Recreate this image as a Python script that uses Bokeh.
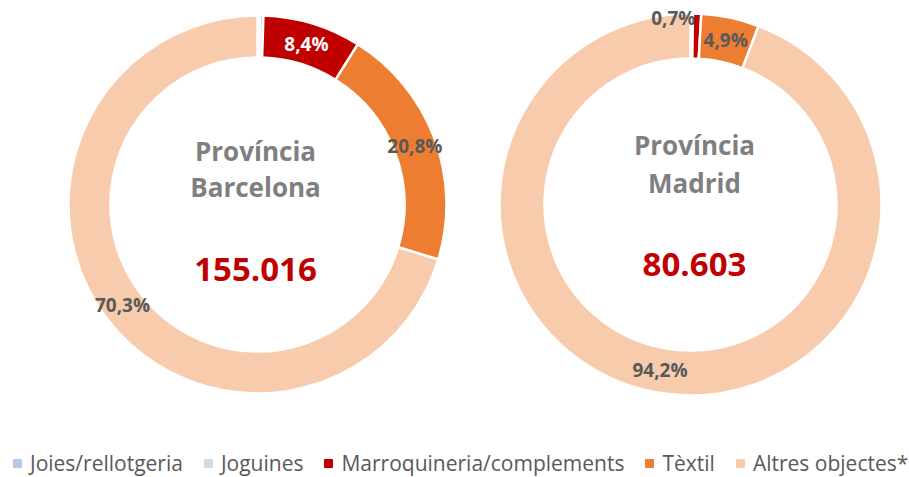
import math
from bokeh.plotting import figure
from bokeh.models import Range1d, ColumnDataSource, Legend, LegendItem
from bokeh.embed import file_html
from bokeh.resources import INLINE
from bokeh.core.properties import value

# ---- data ----
categories = ["Joies/rellotgeria", "Joguines", "Marroquineria/complements", "Tèxtil", "Altres objectes*"]
colors = ["#B4C7E7", "#D9D9D9", "#C00000", "#ED7D31", "#F8CBAD"]
barcelona_pct = [0.2, 0.3, 8.4, 20.8, 70.3]
madrid_pct = [0.1, 0.1, 0.7, 4.9, 94.2]
barcelona_labels = ["", "", "8,4%", "20,8%", "70,3%"]
madrid_labels = ["", "", "0,7%", "4,9%", "94,2%"]
titles = [["Província", "Barcelona"], ["Província", "Madrid"]]
totals = ["155.016", "80.603"]

# ---- styles ----
FONT = "Open Sans"
W, H = 909, 477

p = figure(width=W, height=H, x_range=Range1d(0, W), y_range=Range1d(0, H),
           output_backend="svg", toolbar_location=None, min_border=0)
p.axis.visible = False
p.grid.visible = False
p.outline_line_color = None
p.background_fill_color = "white"


def donut(cx, cy, r_out, r_in, vals, labels, label_colors, dx, dy):
    total = float(sum(vals))
    c0s, c1s = [], []
    c = 0.0
    for v in vals:
        c0s.append(c)
        c += v
        c1s.append(c)
    start = [math.pi / 2 - 2 * math.pi * a / total for a in c0s]
    end = [math.pi / 2 - 2 * math.pi * b / total for b in c1s]
    src = ColumnDataSource(dict(x=[cx] * len(vals), y=[cy] * len(vals),
                                start=start, end=end, color=colors))
    p.annular_wedge(x="x", y="y", inner_radius=r_in, outer_radius=r_out,
                    start_angle="start", end_angle="end", direction="clock",
                    fill_color="color", line_color="white", line_width=2.5,
                    source=src)
    r_mid = (r_in + r_out) / 2
    lx, ly, lt, lc, ox, oy = [], [], [], [], [], []
    for i, (a, b) in enumerate(zip(c0s, c1s)):
        if not labels[i]:
            continue
        ang = math.pi / 2 - 2 * math.pi * (a + b) / 2 / total
        lx.append(cx + r_mid * math.cos(ang))
        ly.append(cy + r_mid * math.sin(ang))
        lt.append(labels[i])
        lc.append(label_colors[i])
        ox.append(dx[i])
        oy.append(dy[i])
    lsrc = ColumnDataSource(dict(x=lx, y=ly, text=lt, color=lc, ox=ox, oy=oy))
    p.text(x="x", y="y", text="text", text_color="color", x_offset="ox", y_offset="oy",
           text_font=value(FONT), text_font_style="bold", text_font_size="19px",
           text_align="center", text_baseline="middle", source=lsrc)


# Barcelona
bx, by = 257, 273
donut(bx, by, 189, 147, barcelona_pct, barcelona_labels,
      ["#595959", "#595959", "#FFFFFF", "#595959", "#595959"],
      [0, 0, 0, 0, 0], [0, 0, 0, 0, 0])
# Madrid
mx, my = 690, 273
donut(mx, my, 191, 146, madrid_pct, madrid_labels,
      ["#595959", "#595959", "#595959", "#595959", "#595959"],
      [0, 0, -23, 0, 0], [0, 0, -18, 0, 0])

# centre texts
for (cx, cy, dx, t, tot, dy0, dy1, dy2) in [
        (bx, by, -2, titles[0], totals[0], 54, 18, -65),
        (mx, my, 4, titles[1], totals[1], 60, 22, -60)]:
    p.text(x=[cx + dx, cx + dx], y=[cy + dy0, cy + dy1], text=t,
           text_color="#7F7F7F", text_font=value(FONT), text_font_style="bold",
           text_font_size="26px", text_align="center", text_baseline="alphabetic")
    p.text(x=[cx + dx], y=[cy + dy2], text=[tot],
           text_color="#C00000", text_font=value(FONT), text_font_style="bold",
           text_font_size="33px", text_align="center", text_baseline="alphabetic")

# legend (marker renderers kept off-canvas; only their legend glyphs show)
items = []
for cat, col in zip(categories, colors):
    r = p.scatter(x=[-1000], y=[-1000], marker="square", size=8, fill_color=col, line_color=col)
    items.append(LegendItem(label=cat, renderers=[r]))
legend = Legend(items=items, orientation="horizontal", location=(7, 0),
                label_text_font=FONT, label_text_font_size="21px",
                label_text_color="#595959", glyph_width=20, glyph_height=20,
                label_standoff=3, spacing=15, padding=0, margin=0,
                border_line_color=None, background_fill_alpha=0)
p.add_layout(legend)

open("out.html", "w").write(file_html(p, INLINE))
